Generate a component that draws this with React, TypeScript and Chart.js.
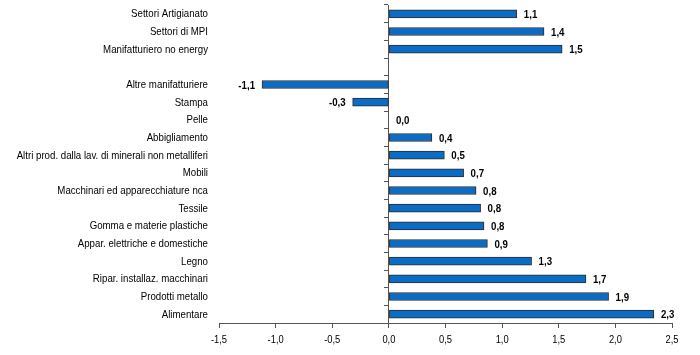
import React, { useEffect, useRef } from "react";
import { Chart, registerables } from "chart.js";

Chart.register(...registerables);

const categories: string[] = [
  "Settori Artigianato",
  "Settori di MPI",
  "Manifatturiero no energy",
  "",
  "Altre manifatturiere",
  "Stampa",
  "Pelle",
  "Abbigliamento",
  "Altri prod. dalla lav. di minerali non metalliferi",
  "Mobili",
  "Macchinari ed apparecchiature nca",
  "Tessile",
  "Gomma e materie plastiche",
  "Appar. elettriche e domestiche",
  "Legno",
  "Ripar. installaz. macchinari",
  "Prodotti metallo",
  "Alimentare",
];

const values: (number | null)[] = [
  1.13, 1.37, 1.53, null, -1.12, -0.32, 0.0, 0.38, 0.49, 0.66, 0.77, 0.81, 0.84,
  0.87, 1.26, 1.74, 1.94, 2.34,
];

const xTicks: number[] = [-1.5, -1.0, -0.5, 0.0, 0.5, 1.0, 1.5, 2.0, 2.5];

const FONT = "'Liberation Sans', Arial, sans-serif";
const AXIS = "#555555";

const fmt = (v: number) => v.toFixed(1).replace(".", ",");

function drawNarrow(
  ctx: CanvasRenderingContext2D,
  text: string,
  x: number,
  y: number,
  align: CanvasTextAlign,
  bold: boolean,
  squeeze: number
) {
  ctx.save();
  ctx.font = `${bold ? "bold " : ""}11px ${FONT}`;
  ctx.fillStyle = "#000";
  ctx.textBaseline = "middle";
  ctx.textAlign = align;
  ctx.translate(x, y);
  ctx.scale(squeeze, 1);
  ctx.fillText(text, 0, 0);
  ctx.restore();
}

const textPlugin = {
  id: "narrowText",
  afterDraw(chart: any) {
    const ctx = chart.ctx as CanvasRenderingContext2D;
    const yScale = chart.scales.y;
    const xScale = chart.scales.x;
    categories.forEach((c, i) => {
      if (!c) return;
      drawNarrow(ctx, c, yScale.right - 11, yScale.getPixelForValue(i) + 0.5, "right", false, 0.88);
    });
    xTicks.forEach((v) => {
      drawNarrow(ctx, fmt(v), xScale.getPixelForValue(v), xScale.top + 17, "center", false, 0.85);
    });
    const meta = chart.getDatasetMeta(0);
    meta.data.forEach((bar: any, i: number) => {
      const v = values[i];
      if (v === null || v === undefined) return;
      if (v < 0) drawNarrow(ctx, fmt(v), bar.x - 7, bar.y + 1, "right", true, 0.88);
      else drawNarrow(ctx, fmt(v), bar.x + 7, bar.y + 1, "left", true, 0.88);
    });
  },
};

export default function App() {
  const ref = useRef<HTMLCanvasElement | null>(null);
  useEffect(() => {
    document.body.style.margin = "0";
    const canvas = ref.current!;
    const chart = new Chart(canvas, {
      type: "bar",
      data: {
        labels: categories,
        datasets: [
          {
            data: values as any,
            backgroundColor: "#0a6cc4",
            borderColor: "#2b2b2b",
            borderWidth: 1,
            borderSkipped: false,
            barThickness: 8,
          },
        ],
      },
      options: {
        indexAxis: "y",
        animation: false,
        responsive: false,
        layout: { padding: { top: 5, right: 28, left: 0, bottom: 0 } },
        plugins: {
          legend: { display: false },
          tooltip: { enabled: false },
        },
        scales: {
          x: {
            type: "linear",
            min: -1.5,
            max: 2.5,
            afterBuildTicks: (s: any) => {
              s.ticks = xTicks.map((v) => ({ value: v }));
            },
            ticks: { display: false },
            grid: {
              drawOnChartArea: false,
              tickLength: 5,
              color: AXIS,
            },
            border: { color: AXIS, width: 1 },
            afterFit: (s: any) => {
              s.height = 32;
              s.paddingLeft = 0;
              s.paddingRight = 0;
            },
          },
          y: {
            type: "category",
            position: "left",
            ticks: { display: false, autoSkip: false },
            grid: { display: false, drawTicks: false },
            border: { display: false },
            afterFit: (s: any) => {
              s.width = 219;
              s.paddingTop = 0;
              s.paddingBottom = 0;
            },
          },
          yz: {
            type: "category",
            axis: "y",
            position: { x: 0 } as any,
            offset: true,
            ticks: { display: false, autoSkip: false },
            grid: {
              drawOnChartArea: false,
              tickLength: 4,
              color: AXIS,
              offset: true,
            },
            border: { color: AXIS, width: 1 },
          },
        },
      } as any,
      plugins: [textPlugin],
    });
    return () => chart.destroy();
  }, []);
  return <canvas ref={ref} width={700} height={355} style={{ display: "block" }} />;
}
